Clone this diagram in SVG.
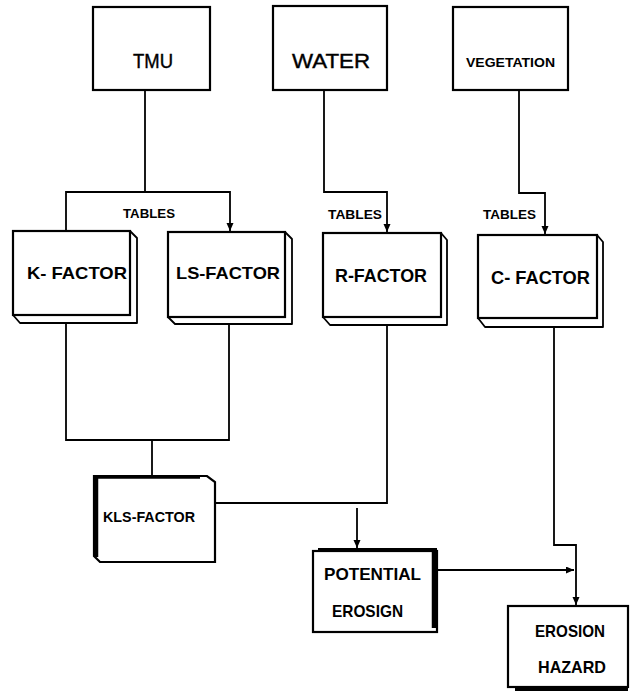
<svg xmlns="http://www.w3.org/2000/svg" width="630" height="694" viewBox="0 0 630 694">
<style>
.box{fill:#fff;stroke:#000;stroke-width:2.2;stroke-linejoin:miter}
.side{fill:#fff;stroke:#000;stroke-width:1.8;stroke-linejoin:round}
.thick{fill:none;stroke:#000;stroke-width:4.5}
.con{fill:none;stroke:#000;stroke-width:1.8}
.t{font-family:"Liberation Sans",Arial,sans-serif;font-weight:bold;fill:#000}
.r{font-family:"Liberation Sans",Arial,sans-serif;font-weight:normal;fill:#000;stroke:#000;stroke-width:0.4}
</style>
<defs>
<marker id="arr" markerUnits="userSpaceOnUse" markerWidth="9" markerHeight="8" refX="8" refY="3.5" orient="auto">
<path d="M0,0 L8,3.5 L0,7 Z" fill="#000"/>
</marker>
</defs>
<rect width="630" height="694" fill="#fff"/>

<g id="connectors">
<path class="con" d="M145,90 V192"/>
<path class="con" d="M66,231 V192 H230 V231" marker-end="url(#arr)"/>
<path class="con" d="M324,90 V192 H387 V232" marker-end="url(#arr)"/>
<path class="con" d="M519,90 V193 H545 V234" marker-end="url(#arr)"/>
<path class="con" d="M66,323 V440 H229 V324"/>
<path class="con" d="M152,440 V476"/>
<path class="con" d="M387,325 V503 H215"/>
<path class="con" d="M357,508 V548" marker-end="url(#arr)"/>
<path class="con" d="M437,570 H574" marker-end="url(#arr)"/>
<path class="con" d="M554,327 V545 H576 V605" marker-end="url(#arr)"/>
</g>

<g id="tmu">
<rect class="box" x="93" y="7" width="117" height="83"/>
<text class="r" x="133" y="68" font-size="20" textLength="40" lengthAdjust="spacingAndGlyphs">TMU</text>
</g>
<g id="water">
<rect class="box" x="273" y="6" width="114" height="84"/>
<text class="r" x="292" y="68" font-size="20" textLength="78" lengthAdjust="spacingAndGlyphs">WATER</text>
</g>
<g id="vegetation">
<rect class="box" x="453" y="7" width="115" height="83"/>
<text class="t" x="466" y="67" font-size="13" textLength="89" lengthAdjust="spacingAndGlyphs">VEGETATION</text>
</g>

<g id="tables-labels">
<text class="t" x="123" y="218" font-size="13" textLength="52" lengthAdjust="spacingAndGlyphs">TABLES</text>
<text class="t" x="328" y="219" font-size="13" textLength="54" lengthAdjust="spacingAndGlyphs">TABLES</text>
<text class="t" x="483" y="219" font-size="13" textLength="53" lengthAdjust="spacingAndGlyphs">TABLES</text>
</g>

<g id="k-factor">
<path class="side" d="M130,231 L137,238 V323 H20 L13,315 H130 Z"/>
<rect class="box" x="13" y="231" width="117" height="84"/>
<text class="t" x="27" y="279" font-size="17" textLength="100" lengthAdjust="spacingAndGlyphs">K- FACTOR</text>
</g>
<g id="ls-factor">
<path class="side" d="M285,232 L292,239 V324 H175 L168,317 H285 Z"/>
<rect class="box" x="168" y="232" width="117" height="85"/>
<text class="t" x="176" y="279" font-size="17" textLength="104" lengthAdjust="spacingAndGlyphs">LS-FACTOR</text>
</g>
<g id="r-factor">
<path class="side" d="M441,233 L447,240 V325 H330 L323,317 H441 Z"/>
<rect class="box" x="323" y="233" width="118" height="84"/>
<text class="t" x="335" y="282" font-size="18" textLength="92" lengthAdjust="spacingAndGlyphs">R-FACTOR</text>
</g>
<g id="c-factor">
<path class="side" d="M597,235 L603,242 V327 H485 L478,318 H597 Z"/>
<rect class="box" x="478" y="235" width="119" height="83"/>
<text class="t" x="491" y="284" font-size="18" textLength="99" lengthAdjust="spacingAndGlyphs">C- FACTOR</text>
</g>

<g id="kls-factor">
<path class="box" d="M94,476 H207 L215,482 V562 H100 L94,556 Z"/>
<line class="thick" x1="96" y1="476" x2="96" y2="557"/>
<line x1="94" y1="477" x2="200" y2="477" stroke="#000" stroke-width="3.5"/>
<text class="t" x="103" y="522" font-size="15" textLength="92" lengthAdjust="spacingAndGlyphs">KLS-FACTOR</text>
</g>

<g id="potential-erosion">
<rect class="box" x="313" y="551" width="124" height="81"/>
<line x1="318" y1="550" x2="437" y2="550" stroke="#000" stroke-width="4"/>
<line class="thick" x1="434" y1="550" x2="434" y2="628"/>
<text class="t" x="324" y="580" font-size="17" textLength="97" lengthAdjust="spacingAndGlyphs">POTENTIAL</text>
<text class="t" x="332" y="617" font-size="17" textLength="71" lengthAdjust="spacingAndGlyphs">EROSIGN</text>
</g>

<g id="erosion-hazard">
<rect class="box" x="508" y="606" width="120" height="81"/>
<line x1="515" y1="689" x2="628" y2="689" stroke="#000" stroke-width="4"/>
<text class="t" x="535" y="637" font-size="17" textLength="70" lengthAdjust="spacingAndGlyphs">EROSION</text>
<text class="t" x="538" y="673" font-size="17" textLength="68" lengthAdjust="spacingAndGlyphs">HAZARD</text>
</g>
</svg>
